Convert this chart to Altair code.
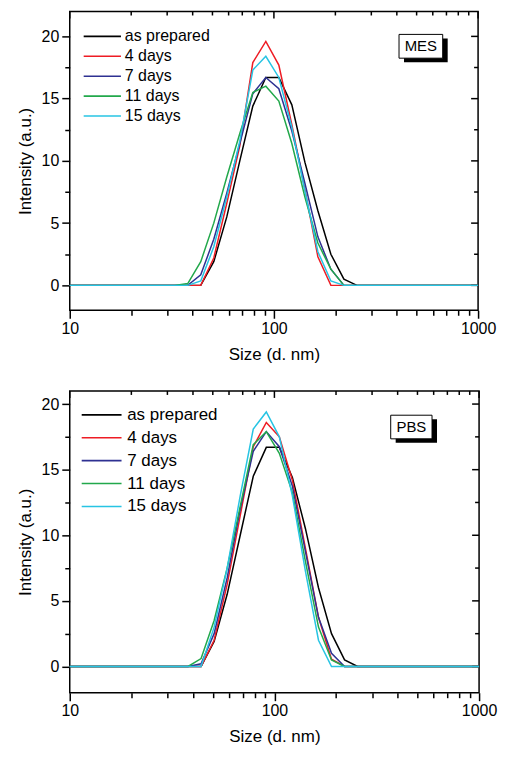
import altair as alt
import pandas as pd

# DLS size bins (d. nm)
sizes = [8.721, 10.1, 11.7, 13.54, 15.69, 18.17, 21.04, 24.36, 28.21, 32.67,
         37.84, 43.82, 50.75, 58.77, 68.06, 78.82, 91.28, 105.7, 122.4, 141.8,
         164.2, 190.1, 220.2, 255.0, 295.3, 342.0, 396.1, 458.7, 531.2, 615.1,
         712.4, 825.0, 955.4, 1106]

series_names = ["as prepared", "4 days", "7 days", "11 days", "15 days"]
series_colors = ["#000000", "#ee1c24", "#2e3192", "#22a84b", "#27c4e3"]

# MES panel intensities
mes_prepared = [0, 0, 0, 0, 0, 0, 0, 0, 0, 0, 0, 0, 1.9, 5.5, 10.0, 14.4, 16.7, 16.7, 14.5, 9.9,
                6.0, 2.5, 0.5, 0, 0, 0, 0, 0, 0, 0, 0, 0, 0, 0]
mes_4d = [0, 0, 0, 0, 0, 0, 0, 0, 0, 0, 0, 0, 2.2, 6.6, 11.2, 17.9, 19.6, 17.7, 12.9, 7.7,
          2.3, 0, 0, 0, 0, 0, 0, 0, 0, 0, 0, 0, 0, 0]
mes_7d = [0, 0, 0, 0, 0, 0, 0, 0, 0, 0, 0, 0.85, 3.7, 7.4, 11.4, 15.4, 16.7, 15.8, 12.4, 8.2,
          3.9, 1.3, 0, 0, 0, 0, 0, 0, 0, 0, 0, 0, 0, 0]
mes_11d = [0, 0, 0, 0, 0, 0, 0, 0, 0, 0, 0.15, 1.9, 5.0, 8.7, 12.2, 15.5, 16.0, 14.8, 11.4, 7.1,
           3.4, 1.3, 0, 0, 0, 0, 0, 0, 0, 0, 0, 0, 0, 0]
mes_15d = [0, 0, 0, 0, 0, 0, 0, 0, 0, 0, 0, 0.35, 3.1, 7.1, 11.6, 17.3, 18.4, 16.7, 12.7, 7.6,
           2.7, 0.35, 0, 0, 0, 0, 0, 0, 0, 0, 0, 0, 0, 0]

# PBS panel intensities
pbs_prepared = [0, 0, 0, 0, 0, 0, 0, 0, 0, 0, 0, 0, 1.9, 5.5, 10.0, 14.5, 16.7, 16.7, 14.4, 10.5,
                6.0, 2.5, 0.5, 0, 0, 0, 0, 0, 0, 0, 0, 0, 0, 0]
pbs_4d = [0, 0, 0, 0, 0, 0, 0, 0, 0, 0, 0, 0, 2.0, 6.25, 11.5, 16.75, 18.6, 17.5, 14.2, 9.0,
          3.75, 0.55, 0, 0, 0, 0, 0, 0, 0, 0, 0, 0, 0, 0]
pbs_7d = [0, 0, 0, 0, 0, 0, 0, 0, 0, 0, 0, 0.2, 2.5, 6.75, 12.0, 16.4, 17.9, 16.75, 13.75, 8.75,
          3.75, 1.0, 0, 0, 0, 0, 0, 0, 0, 0, 0, 0, 0, 0]
pbs_11d = [0, 0, 0, 0, 0, 0, 0, 0, 0, 0, 0, 0.6, 3.5, 7.5, 12.2, 16.9, 17.9, 16.25, 13.25, 8.0,
           3.0, 0.5, 0, 0, 0, 0, 0, 0, 0, 0, 0, 0, 0, 0]
pbs_15d = [0, 0, 0, 0, 0, 0, 0, 0, 0, 0, 0, 0, 3.0, 7.5, 13.0, 18.1, 19.4, 17.5, 13.0, 7.25,
           2.0, 0, 0, 0, 0, 0, 0, 0, 0, 0, 0, 0, 0, 0]

x_major = [10, 100, 1000]
x_minor = [20, 30, 40, 50, 60, 70, 80, 90, 200, 300, 400, 500, 600, 700, 800, 900]
y_major = [0, 5, 10, 15, 20]
y_minor = [2.5, 7.5, 12.5, 17.5]

FONT = "Liberation Sans"


def long_df(values_list):
    rows = []
    for name, vals in zip(series_names, values_list):
        for s, v in zip(sizes, vals):
            rows.append({"size": s, "intensity": v, "series": name})
    return pd.DataFrame(rows)


def panel(values_list, ydomain, w, h, label, box, leg):
    df = long_df(values_list)
    xs = alt.Scale(type="log", domain=[10, 1000])
    ys = alt.Scale(domain=ydomain, nice=False, zero=False)
    color = alt.Color(
        "series:N",
        sort=series_names,
        scale=alt.Scale(domain=series_names, range=series_colors),
        legend=alt.Legend(
            title=None, orient="none", legendX=leg["x"], legendY=leg["y"],
            symbolType="M-5,0H5", symbolSize=leg["size"], symbolStrokeWidth=1.6,
            symbolOffset=leg["soff"], labelOffset=leg["loff"], rowPadding=leg["rp"], padding=0,
            labelFont=FONT, labelFontSize=leg["fs"], labelColor="black",
        ),
    )
    lines = alt.Chart(df).mark_line(strokeWidth=1.5, clip=True).encode(
        x=alt.X("size:Q", scale=xs, axis=alt.Axis(
            orient="bottom", values=x_major, format="d", title="Size (d. nm)", tickSize=8,
            labelPadding=2, titlePadding=10, labelFlush=False, grid=False)),
        y=alt.Y("intensity:Q", scale=ys, axis=alt.Axis(
            orient="left", values=y_major, title="Intensity (a.u.)", tickSize=8,
            labelPadding=3, titlePadding=7, labelFlush=False, grid=False)),
        color=color,
    )
    base = alt.Chart(df).mark_point(opacity=0, size=1)
    minor_bl = base.encode(
        x=alt.X("size:Q", scale=xs, axis=alt.Axis(orient="bottom", values=x_minor, labels=False,
                                                  title=None, tickSize=5, grid=False)),
        y=alt.Y("intensity:Q", scale=ys, axis=alt.Axis(orient="left", values=y_minor, labels=False,
                                                       title=None, tickSize=5, grid=False)),
    )
    # inward mirror ticks on the top and right edges, placed through the scales
    xmaj = pd.DataFrame({"v": x_major})
    xmin = pd.DataFrame({"v": x_minor})
    ymaj = pd.DataFrame({"v": y_major})
    ymin = pd.DataFrame({"v": y_minor})
    tick_style = dict(color="black", strokeWidth=1.5)
    top_major = alt.Chart(xmaj).mark_rule(**tick_style).encode(
        x=alt.X("v:Q", scale=xs, axis=None), y=alt.value(0), y2=alt.value(7))
    top_minor = alt.Chart(xmin).mark_rule(**tick_style).encode(
        x=alt.X("v:Q", scale=xs, axis=None), y=alt.value(0), y2=alt.value(4))
    right_major = alt.Chart(ymaj).mark_rule(**tick_style).encode(
        y=alt.Y("v:Q", scale=ys, axis=None), x=alt.value(w), x2=alt.value(w - 7))
    right_minor = alt.Chart(ymin).mark_rule(**tick_style).encode(
        y=alt.Y("v:Q", scale=ys, axis=None), x=alt.value(w), x2=alt.value(w - 4))

    bdf = pd.DataFrame([{"x": box[0], "x2": box[1], "y": box[2], "y2": box[3],
                         "xc": (box[0] * box[1]) ** 0.5, "yc": (box[2] + box[3]) / 2, "label": label}])
    shadow = alt.Chart(bdf).mark_rect(fill="black", xOffset=5, x2Offset=5, yOffset=4, y2Offset=4).encode(
        x=alt.X("x:Q", scale=xs, axis=None), x2="x2:Q",
        y=alt.Y("y:Q", scale=ys, axis=None), y2="y2:Q")
    frame = alt.Chart(bdf).mark_rect(fill="white", stroke="black", strokeWidth=1).encode(
        x=alt.X("x:Q", scale=xs, axis=None), x2="x2:Q",
        y=alt.Y("y:Q", scale=ys, axis=None), y2="y2:Q")
    text = alt.Chart(bdf).mark_text(font=FONT, fontSize=15, color="black", baseline="middle", align="center").encode(
        x=alt.X("xc:Q", scale=xs, axis=None),
        y=alt.Y("yc:Q", scale=ys, axis=None),
        text="label:N")
    return alt.layer(minor_bl, top_major, top_minor, right_major, right_minor,
                     lines, shadow, frame, text).resolve_axis(
        x="independent", y="independent").properties(width=w, height=h)


top = panel([mes_prepared, mes_4d, mes_7d, mes_11d, mes_15d], [-2, 22], 410, 300, "MES",
            (410, 671, 18.25, 20.16),
            dict(x=14, y=17, size=56, soff=10.7, loff=14.6, rp=4, fs=16))
bottom = panel([pbs_prepared, pbs_4d, pbs_7d, pbs_11d, pbs_15d], [-2, 21], 411, 303, "PBS",
               (370, 589, 17.35, 19.15),
               dict(x=12, y=15.5, size=64, soff=11.5, loff=17.2, rp=5, fs=17))

chart = alt.vconcat(top, bottom, spacing=26).resolve_scale(
    color="independent"
).resolve_legend(
    color="independent"
).properties(
    padding={"left": 7, "top": 0, "right": 0, "bottom": 0},
    background="white",
).configure_view(stroke="black", strokeWidth=1.5).configure_axis(
    labelFont=FONT, labelFontSize=16, labelColor="black",
    titleFont=FONT, titleFontSize=17, titleFontWeight="normal", titleColor="black",
    tickColor="black", tickWidth=1.5, domain=False, grid=False,
)

chart.save("out.html", embed_options={"renderer": "svg", "actions": False})
